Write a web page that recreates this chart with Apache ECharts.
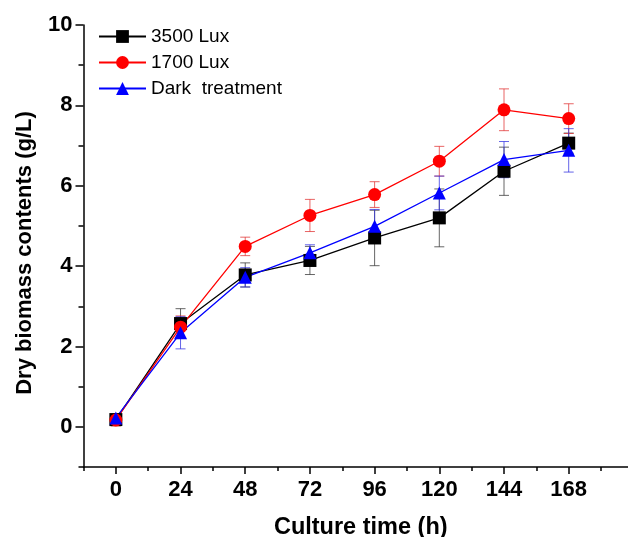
<!DOCTYPE html>
<html>
<head>
<meta charset="utf-8">
<script src="https://cdn.jsdelivr.net/npm/echarts@6/dist/echarts.min.js"></script>
<style>
  html, body { margin: 0; padding: 0; background: #fff; }
  #chart { width: 628px; height: 537px; }
</style>
</head>
<body>
<div id="chart"></div>
<script>
const times = [0, 24, 48, 72, 96, 120, 144, 168];
const lux3500 = [0.18, 2.57, 3.78, 4.14, 4.70, 5.20, 6.36, 7.06];
const lux3500Err = [0.08, 0.37, 0.30, 0.35, 0.69, 0.72, 0.60, 0.25];
const lux1700 = [0.17, 2.48, 4.49, 5.26, 5.78, 6.61, 7.89, 7.67];
const lux1700Err = [0.15, 0.28, 0.23, 0.40, 0.32, 0.37, 0.52, 0.37];
const dark = [0.22, 2.34, 3.72, 4.33, 4.99, 5.82, 6.65, 6.88];
const darkErr = [0.08, 0.40, 0.24, 0.20, 0.42, 0.42, 0.45, 0.54];

const xLabels = [0, 24, 48, 72, 96, 120, 144, 168];
const xMinor = [-12, 12, 36, 60, 84, 108, 132, 156, 180];
const yLabels = [0, 2, 4, 6, 8, 10];
const yMinor = [-1, 1, 3, 5, 7, 9];

const font = 'Liberation Sans, Arial, sans-serif';

let myChart = echarts.init(document.getElementById('chart'));

function points(vals) {
    return times.map((t, i) => [t, vals[i]]);
}
function bars(vals, errs) {
    return times.map((t, i) => [t, vals[i] - errs[i], vals[i] + errs[i]]);
}

function errorSeries(vals, errs, color) {
    return {
        type: 'custom',
        data: bars(vals, errs),
        encode: { x: 0, y: [1, 2] },
        z: 3,
        renderItem: function (params, api) {
            let lo = api.coord([api.value(0), api.value(1)]);
            let hi = api.coord([api.value(0), api.value(2)]);
            let hw = 5;
            let style = { stroke: color, lineWidth: 1, opacity: 0.75 };
            return {
                type: 'group',
                children: [
                    { type: 'line', shape: { x1: lo[0], y1: lo[1], x2: hi[0], y2: hi[1] }, style: style },
                    { type: 'line', shape: { x1: lo[0] - hw, y1: lo[1], x2: lo[0] + hw, y2: lo[1] }, style: style },
                    { type: 'line', shape: { x1: hi[0] - hw, y1: hi[1], x2: hi[0] + hw, y2: hi[1] }, style: style }
                ]
            };
        }
    };
}

function lineSeries(name, vals, color, symbol) {
    return {
        name: name,
        type: 'line',
        data: points(vals),
        symbol: symbol,
        symbolSize: 13,
        z: 4,
        itemStyle: { color: color },
        lineStyle: { color: color, width: 1.3 },
        emphasis: { disabled: true }
    };
}

let option = {
    animation: false,
    textStyle: { fontFamily: font },
    grid: { left: 83.5, right: 0, top: 25, bottom: 70, outerBoundsMode: 'none' },
    legend: {
        data: ['3500 Lux', '1700 Lux', 'Dark  treatment'],
        orient: 'vertical',
        left: 98,
        top: 27,
        padding: 0,
        itemWidth: 47,
        itemHeight: 16,
        itemGap: 7,
        textStyle: { fontSize: 19, color: '#000', fontFamily: font }
    },
    xAxis: [{
        type: 'value',
        min: -12,
        max: 190,
        interval: 12,
        position: 'bottom',
        name: 'Culture time (h)',
        nameLocation: 'middle',
        nameGap: 49,
        nameTextStyle: { fontSize: 23.5, fontWeight: 'bold', color: '#000', fontFamily: font, padding: [0, 0, 0, 10] },
        axisLine: { onZero: false, lineStyle: { color: '#000', width: 1.5 } },
        axisTick: { customValues: xLabels, length: 7, lineStyle: { color: '#000', width: 1.5 } },
        axisLabel: { customValues: xLabels, fontSize: 22, fontWeight: 'bold', color: '#000', margin: 12 },
        splitLine: { show: false }
    }, {
        type: 'value',
        min: -12,
        max: 190,
        interval: 12,
        position: 'bottom',
        axisLine: { show: false, onZero: false },
        axisTick: { customValues: xMinor, length: 4, lineStyle: { color: '#000', width: 1.5 } },
        axisLabel: { show: false },
        splitLine: { show: false }
    }],
    yAxis: [{
        type: 'value',
        min: -1,
        max: 10,
        interval: 1,
        position: 'left',
        name: 'Dry biomass contents (g/L)',
        nameLocation: 'middle',
        nameGap: 48,
        nameTextStyle: { fontSize: 22, fontWeight: 'bold', color: '#000', fontFamily: font, padding: [0, 14, 0, 0] },
        axisLine: { onZero: false, lineStyle: { color: '#000', width: 1.5 } },
        axisTick: { customValues: yLabels, length: 8, lineStyle: { color: '#000', width: 1.5 } },
        axisLabel: { customValues: yLabels, fontSize: 22, fontWeight: 'bold', color: '#000', margin: 11 },
        splitLine: { show: false }
    }, {
        type: 'value',
        min: -1,
        max: 10,
        interval: 1,
        position: 'left',
        axisLine: { show: false, onZero: false },
        axisTick: { customValues: yMinor, length: 5, lineStyle: { color: '#000', width: 1.5 } },
        axisLabel: { show: false },
        splitLine: { show: false }
    }],
    series: [
        errorSeries(lux3500, lux3500Err, '#333'),
        errorSeries(lux1700, lux1700Err, '#e03030'),
        errorSeries(dark, darkErr, '#3030e0'),
        lineSeries('3500 Lux', lux3500, '#000000', 'rect'),
        lineSeries('1700 Lux', lux1700, '#ff0000', 'circle'),
        lineSeries('Dark  treatment', dark, '#0000ff', 'triangle')
    ]
};

myChart.setOption(option);
</script>
</body>
</html>
